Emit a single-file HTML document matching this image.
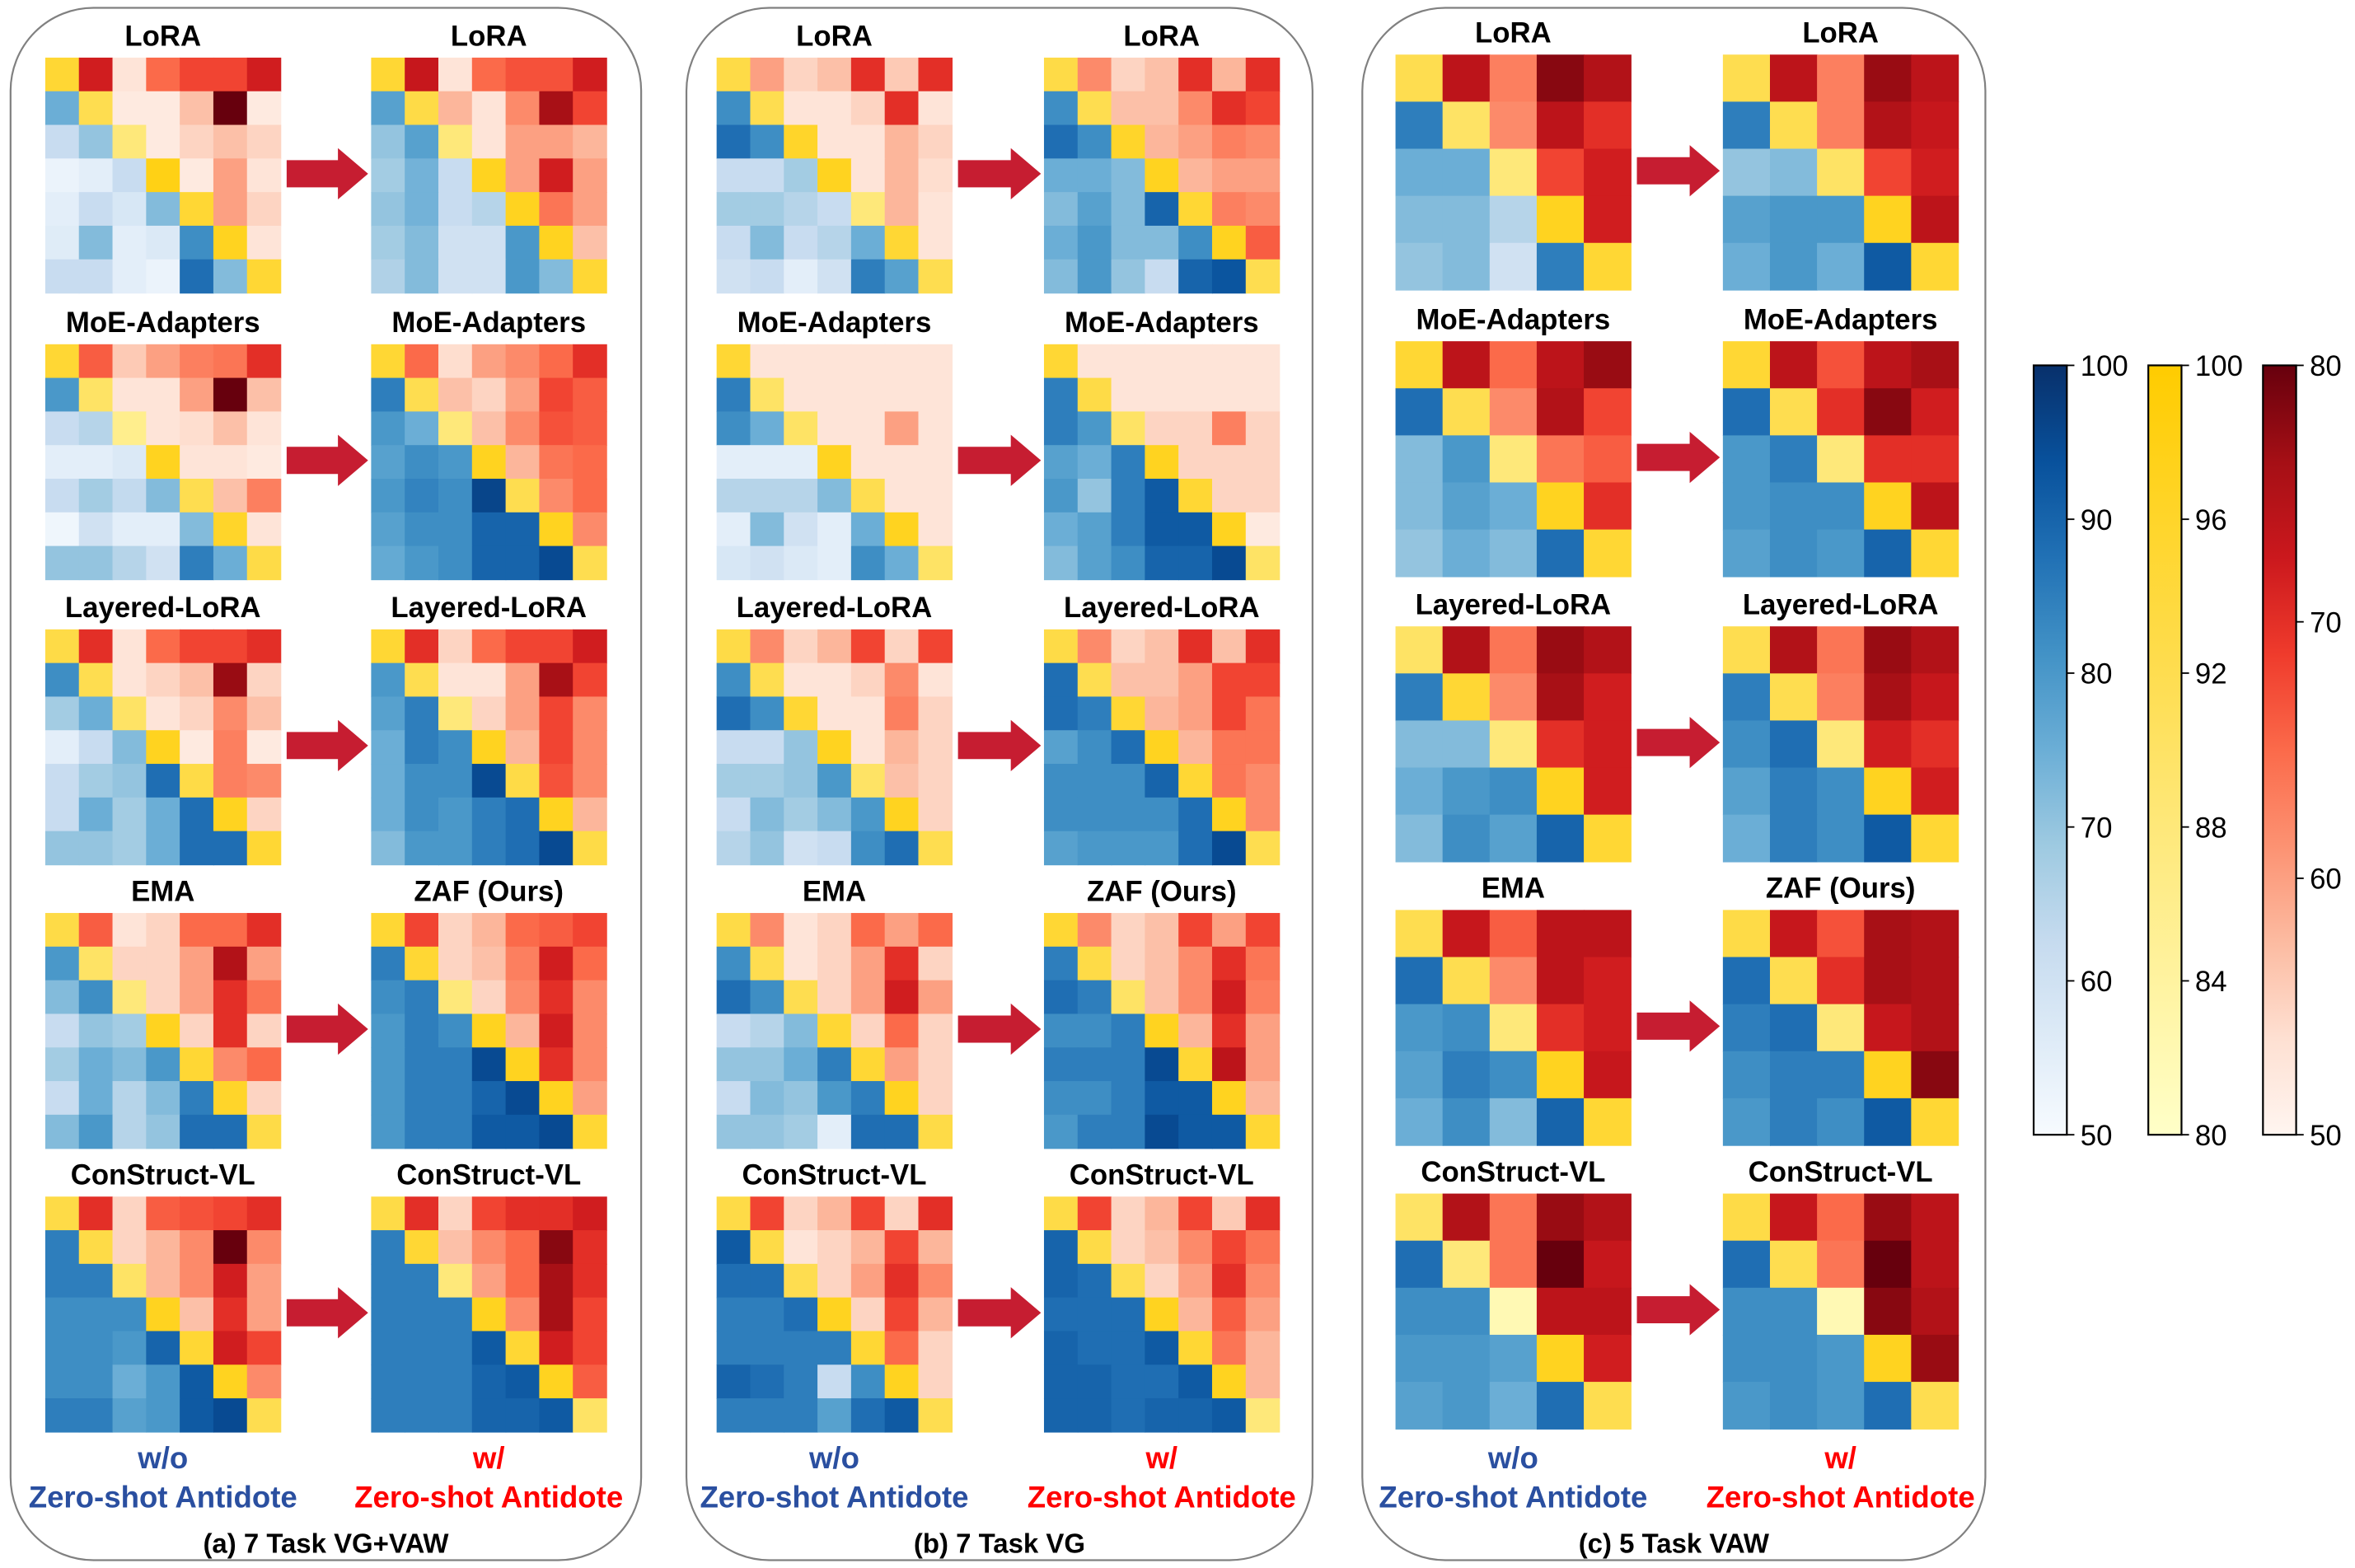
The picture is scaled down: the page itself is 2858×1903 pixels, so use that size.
<!DOCTYPE html>
<html><head><meta charset="utf-8">
<style>
html,body{margin:0;padding:0;background:#fff;}
svg{display:block;font-family:"Liberation Sans",Arial,sans-serif;}
</style></head>
<body>
<svg id="fig" width="2858" height="1903" viewBox="0 0 1561 1039" xmlns="http://www.w3.org/2000/svg">
<g id="panels"></g>
<g id="maps"></g>
<g id="bars"></g>
</svg>
<script>
// ---------- DATA ----------
const methodsLeft = ["LoRA","MoE-Adapters","Layered-LoRA","EMA","ConStruct-VL"];
const methodsRight = ["LoRA","MoE-Adapters","Layered-LoRA","ZAF (Ours)","ConStruct-VL"];
const panelCaptions = ["(a) 7 Task VG+VAW","(b) 7 Task VG","(c) 5 Task VAW"];
const blueTicks = [100,90,80,70,60,50];
const yellowTicks = [100,96,92,88,84,80];
const redTicks = [80,70,60,50];

const aLoRA_L=[[95,72,53,65,68,68,72],[75,92,52,52,57,80,52],[62,70,88,52,55,57,55],[53,55,62,98,52,60,53],[55,62,58,72,95,60,55],[56,72,55,57,82,97,53],[62,62,55,53,88,72,95]];
const aLoRA_R=[[95,73,53,65,67,67,72],[78,93,58,53,62,76,68],[70,78,88,53,60,60,58],[68,74,62,97,60,72,60],[70,74,62,65,97,64,60],[68,72,60,60,80,97,57],[66,72,60,60,80,72,95]];
const aMoE_L=[[95,66,56,60,63,64,70],[80,90,53,53,60,80,57],[62,65,86,53,54,57,53],[55,55,57,97,53,53,52],[62,68,63,72,92,57,63],[52,60,55,55,72,96,53],[70,70,65,60,85,75,93]];
const aMoE_R=[[95,65,54,60,62,65,70],[85,92,57,55,60,68,66],[80,75,88,57,62,67,66],[78,82,80,97,58,64,65],[80,84,82,96,92,62,65],[78,82,82,90,90,97,62],[76,80,82,90,90,95,92]];
const aLay_L=[[93,70,53,65,68,68,70],[82,92,53,55,57,77,55],[68,75,90,53,55,62,57],[55,62,72,97,52,63,52],[62,68,70,88,93,63,62],[62,75,68,75,88,97,55],[70,70,68,75,88,88,95]];
const aLay_R=[[95,70,55,65,68,68,72],[80,92,53,53,60,76,68],[78,85,88,55,60,68,62],[75,85,82,97,58,68,62],[75,82,82,95,93,67,62],[75,82,80,85,88,97,58],[72,80,80,85,88,95,93]];
const aEMA_L=[[93,66,53,55,65,65,70],[80,90,55,55,60,75,60],[72,82,88,55,60,70,64],[62,70,68,97,55,70,55],[68,75,72,80,95,62,65],[62,75,65,72,85,96,55],[72,80,65,70,88,88,93]];
const aZAF_R=[[95,68,55,58,65,66,68],[85,95,55,57,63,72,65],[82,85,88,55,62,70,62],[80,85,82,97,58,72,62],[80,85,85,95,97,70,62],[80,85,85,90,95,97,60],[80,85,85,92,92,95,95]];
const aCon_L=[[93,70,55,66,67,68,70],[85,93,55,58,62,80,62],[85,85,90,58,62,72,60],[82,82,82,97,57,70,60],[82,82,80,90,95,72,68],[82,82,75,80,92,97,62],[85,85,78,80,92,95,92]];
const aCon_R=[[93,70,55,68,70,70,72],[85,95,57,62,65,78,70],[85,85,88,60,65,76,70],[85,85,85,97,62,76,68],[85,85,85,92,95,72,68],[85,85,85,90,92,97,66],[85,85,85,90,90,92,90]];

const bLoRA_L=[[93,60,55,57,70,56,70],[82,92,53,53,55,70,53],[88,82,96,53,53,58,55],[62,62,68,97,53,58,54],[68,68,65,62,88,58,53],[62,72,62,65,75,95,53],[60,62,55,60,85,78,92]];
const bLoRA_R=[[93,62,55,57,70,58,70],[82,92,57,57,62,70,68],[88,82,96,58,60,63,62],[75,75,72,97,58,60,60],[72,78,72,90,95,63,62],[75,80,72,72,82,97,66],[72,80,70,62,90,93,92]];
const bMoE_L=[[95,53,53,53,53,53,53],[85,90,53,53,53,53,53],[82,75,90,53,53,60,53],[55,55,55,97,53,53,53],[65,65,65,72,92,53,53],[55,72,60,55,75,97,53],[58,60,57,55,82,75,90]];
const bMoE_R=[[95,53,53,53,53,53,53],[85,93,53,53,53,53,53],[85,80,90,55,55,63,55],[78,75,85,97,55,55,55],[80,70,85,92,95,55,55],[75,78,85,92,92,97,52],[72,78,82,90,90,95,90]];
const bLay_L=[[93,62,55,58,68,55,68],[82,92,53,53,55,62,53],[88,82,95,53,53,63,55],[62,62,70,97,53,58,55],[68,68,70,80,90,57,55],[62,72,68,72,80,97,55],[65,70,60,62,82,88,92]];
const bLay_R=[[93,62,55,57,70,57,70],[88,92,57,57,60,68,68],[88,85,95,58,60,68,64],[78,82,88,97,58,64,64],[82,82,82,90,95,64,62],[82,82,82,82,88,97,62],[78,80,80,80,88,95,92]];
const bEMA_L=[[93,62,53,55,65,60,65],[82,92,53,55,60,70,55],[88,82,92,55,60,72,60],[62,65,72,95,55,65,55],[70,70,75,85,95,60,55],[62,72,70,80,85,97,55],[70,70,68,55,88,88,93]];
const bZAF_R=[[95,62,55,57,68,60,68],[85,93,55,57,62,70,64],[88,85,90,57,62,72,63],[82,82,85,97,58,70,60],[85,85,85,95,95,74,60],[82,82,85,92,92,97,58],[80,85,85,95,92,92,95]];
const bCon_L=[[93,68,55,58,68,55,70],[92,93,53,55,58,68,58],[88,88,92,55,60,70,62],[85,85,88,97,55,68,58],[85,85,85,85,95,65,55],[90,88,85,62,82,97,55],[85,85,85,78,88,92,92]];
const bCon_R=[[93,68,55,58,68,56,70],[90,93,55,57,62,68,64],[90,88,92,55,60,70,62],[88,88,88,97,58,66,60],[90,88,88,92,95,64,58],[90,90,88,88,92,97,58],[90,90,88,90,90,92,88]];

const cLoRA_L=[[92,74,63,78,75],[85,90,62,74,70],[75,75,88,68,72],[72,72,65,97,72],[70,72,60,85,95]];
const cLoRA_R=[[92,74,63,77,74],[85,92,63,75,73],[70,72,90,68,72],[78,80,80,97,74],[75,80,75,92,95]];
const cMoE_L=[[95,74,65,74,77],[88,92,62,75,68],[72,80,88,64,66],[72,78,75,97,70],[70,75,72,88,95]];
const cMoE_R=[[95,74,67,74,76],[88,92,70,78,72],[80,85,88,70,70],[80,82,82,97,74],[78,82,80,90,95]];
const cLay_L=[[90,75,64,77,75],[85,95,62,76,72],[72,72,88,70,72],[75,80,82,97,72],[72,82,78,90,95]];
const cLay_R=[[92,75,64,77,75],[85,92,63,76,73],[82,88,88,72,70],[78,85,82,97,72],[75,85,82,92,95]];
const cEMA_L=[[92,73,66,74,74],[88,92,62,74,72],[80,82,88,70,72],[78,85,82,97,73],[75,82,72,90,95]];
const cZAF_R=[[93,73,67,76,75],[88,92,70,76,75],[85,88,88,73,75],[82,85,85,97,78],[80,85,82,92,95]];
const cCon_L=[[90,75,64,77,75],[88,88,64,80,73],[82,82,82,74,74],[80,80,78,97,72],[78,80,75,88,92]];
const cCon_R=[[93,73,65,77,74],[88,92,64,80,74],[82,82,82,78,75],[82,82,80,97,77],[80,82,80,88,92]];

const panelMapsL=[[aLoRA_L,aMoE_L,aLay_L,aEMA_L,aCon_L],[bLoRA_L,bMoE_L,bLay_L,bEMA_L,bCon_L],[cLoRA_L,cMoE_L,cLay_L,cEMA_L,cCon_L]];
const panelMapsR=[[aLoRA_R,aMoE_R,aLay_R,aZAF_R,aCon_R],[bLoRA_R,bMoE_R,bLay_R,bZAF_R,bCon_R],[cLoRA_R,cMoE_R,cLay_R,cZAF_R,cCon_R]];

// ---------- COLORMAPS ----------
const NS="http://www.w3.org/2000/svg";
const BLUES=["#f7fbff","#deebf7","#c6dbef","#9ecae1","#6baed6","#4292c6","#2171b5","#08519c","#08306b"];
const REDS=["#fff5f0","#fee0d2","#fcbba1","#fc9272","#fb6a4a","#ef3b2c","#cb181d","#a50f15","#67000d"];
const YELS=["#ffffc8","#fff3a0","#fee87a","#fedd50","#ffd52a","#ffcc00"];
function hex(h){return [1,3,5].map(i=>parseInt(h.substr(i,2),16));}
function ramp(stops,t){t=Math.max(0,Math.min(1,t));const n=stops.length-1;const i=Math.min(n-1,Math.floor(t*n));const f=t*n-i;const a=hex(stops[i]),b=hex(stops[i+1]);return "rgb("+a.map((v,k)=>Math.round(v+(b[k]-v)*f)).join(",")+")";}
const blueScale=v=>ramp(BLUES,(v-50)/50);
const yelScale=v=>ramp(YELS,(v-80)/20);
const redScale=v=>ramp(REDS,(v-50)/30);

function el(tag,attrs,parent,text){const e=document.createElementNS(NS,tag);for(const k in attrs)e.setAttribute(k,attrs[k]);if(text!==undefined)e.textContent=text;parent.appendChild(e);return e;}

// ---------- LAYOUT ----------
const panelBoxes=[{x:7,w:418},{x:455,w:415},{x:903,w:413}];
const leftX=[30,475,925], rightX=[246,692,1142];
const rowTops=[38,228,417,605,793];
const S=156;
const gP=document.getElementById('panels'), gM=document.getElementById('maps'), gB=document.getElementById('bars');

panelBoxes.forEach((p,pi)=>{
  const r=el('rect',{x:p.x,y:5,width:p.w,height:1029,rx:55,ry:55,fill:'none',stroke:'#808080','stroke-width':1.2},gP);
  
  
  const cx=p.x+p.w/2;
  const cap=el('text',{x:cx,y:1029,'text-anchor':'middle','font-size':18,'font-weight':'bold',fill:'#000'},gP,panelCaptions[pi]);
  
  
  const lc=leftX[pi]+S/2, rc=rightX[pi]+S/2;
  const t1=el('text',{x:lc,y:973,'text-anchor':'middle','font-size':20,'font-weight':'bold',fill:'#2a4fa0'},gP,'w/o');
  
  
  const t2=el('text',{x:lc,y:999,'text-anchor':'middle','font-size':20,'font-weight':'bold',fill:'#2a4fa0'},gP,'Zero-shot Antidote');
  
  
  const t3=el('text',{x:rc,y:973,'text-anchor':'middle','font-size':20,'font-weight':'bold',fill:'#ff0000'},gP,'w/');
  
  
  const t4=el('text',{x:rc,y:999,'text-anchor':'middle','font-size':20,'font-weight':'bold',fill:'#ff0000'},gP,'Zero-shot Antidote');
  
  
});

function drawMap(data,x0,y0,name){
  const n=data.length, c=S/n;
  const g=el('g',{},gM);
  
  
  data.forEach((row,i)=>row.forEach((v,j)=>{
    const col = i===j?yelScale(v):(i>j?blueScale(v):redScale(v));
    const r=el('rect',{x:x0+j*c,y:y0+i*c,width:c+0.4,height:c+0.4,fill:col},g);
    
    
  }));
}

for(let pi=0;pi<3;pi++){
  for(let ri=0;ri<5;ri++){
    const y0=rowTops[ri]-(pi===2?2:0);
    drawMap(panelMapsL[pi][ri],leftX[pi],y0,'heatmap-'+'abc'[pi]+'-'+methodsLeft[ri].toLowerCase().replace(/[^a-z]+/g,'-')+'-before');
    drawMap(panelMapsR[pi][ri],rightX[pi],y0,'heatmap-'+'abc'[pi]+'-'+methodsRight[ri].toLowerCase().replace(/[^a-z]+/g,'-')+'-after');
    const tl=el('text',{x:leftX[pi]+S/2,y:y0-8,'text-anchor':'middle','font-size':19,'font-weight':'bold',fill:'#000'},gM,methodsLeft[ri]);
    
    
    const tr=el('text',{x:rightX[pi]+S/2,y:y0-8,'text-anchor':'middle','font-size':19,'font-weight':'bold',fill:'#000'},gM,methodsRight[ri]);
    
    
    const ax0=leftX[pi]+S+4, ax1=rightX[pi]-2, cy=y0+S/2-1;
    const hw=20;
    const ar=el('polygon',{points:[[ax0,cy-9],[ax1-hw,cy-9],[ax1-hw,cy-17],[ax1,cy],[ax1-hw,cy+17],[ax1-hw,cy+9],[ax0,cy+9]].map(p=>p.join(',')).join(' '),fill:'#c61d31'},gM);
    
    
  }
}

// ---------- COLORBARS ----------
const defs=el('defs',{},gB);
function grad(id,stops){const lg=el('linearGradient',{id:id,x1:0,y1:1,x2:0,y2:0},defs);stops.forEach((s,i)=>el('stop',{offset:i/(stops.length-1),'stop-color':s},lg));}
grad('gb',BLUES);grad('gy',YELS);grad('gr',REDS);
const cbTop=242, cbBot=752, cbW=22;
function colorbar(x,gid,ticks,lo,hi,name){
  const g=el('g',{},gB);
  
  
  el('rect',{x:x,y:cbTop,width:cbW,height:cbBot-cbTop,fill:'url(#'+gid+')',stroke:'#000','stroke-width':1.2},g);
  ticks.forEach(t=>{
    const y=cbBot-(t-lo)/(hi-lo)*(cbBot-cbTop);
    el('line',{x1:x+cbW,x2:x+cbW+5,y1:y,y2:y,stroke:'#000','stroke-width':1},g);
    const tx=el('text',{x:x+cbW+9,y:y+7,'font-size':19,fill:'#000'},g,String(t));
    
    
  });
}
colorbar(1348,'gb',blueTicks,50,100,'colorbar-blue');
colorbar(1424,'gy',yellowTicks,80,100,'colorbar-yellow');
colorbar(1500,'gr',redTicks,50,80,'colorbar-red');
</script>
</body></html>
